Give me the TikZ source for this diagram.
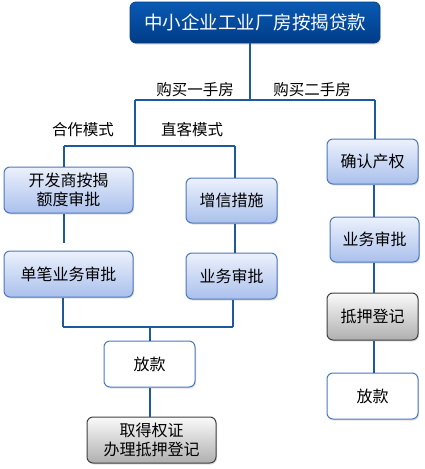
\documentclass[tikz,border=0pt]{standalone}
\usepackage{fontspec}
\setmainfont{Noto Sans CJK SC}
\usetikzlibrary{shadows}
\definecolor{linec}{RGB}{30,90,155}
\definecolor{bborder}{RGB}{75,120,190}
\definecolor{btop}{RGB}{236,241,252}
\definecolor{bbot}{RGB}{170,192,236}
\definecolor{ttop}{RGB}{10,90,180}
\definecolor{tbot}{RGB}{0,60,135}
\definecolor{gtop}{RGB}{250,250,250}
\definecolor{gbot}{RGB}{175,175,175}
\tikzset{
  conn/.style={draw=linec, line width=1.2pt},
  basebox/.style={rounded corners=6pt, inner sep=0pt, align=center, font=\fontsize{16}{18.5}\selectfont,
    drop shadow={shadow xshift=1pt, shadow yshift=-1.5pt, opacity=0.25}},
  bluebox/.style={basebox, draw=bborder, line width=1pt, top color=btop, bottom color=bbot},
  whitebox/.style={basebox, draw=bborder, line width=1pt, fill=white},
  graybox/.style={basebox, draw=black!75, line width=1pt, top color=gtop, bottom color=gbot},
  titlebox/.style={basebox, draw=ttop!70!black, line width=0.8pt, top color=ttop, bottom color=tbot, text=white, font=\fontsize{18.5}{22}\selectfont},
  lbl/.style={inner sep=0pt, font=\fontsize{15.5}{18}\selectfont}
}
\begin{document}
\begin{tikzpicture}[x=1pt,y=-1pt]
\useasboundingbox (0,0) rectangle (424,469);
% boxes
\node[titlebox, minimum width=250pt, minimum height=41pt] (title) at (255,22.5) {中小企业工业厂房按揭贷款};
\node[bluebox, minimum width=129pt, minimum height=46pt] (kf) at (68.5,190) {开发商按揭\\额度审批};
\node[bluebox, minimum width=129pt, minimum height=46pt] (db) at (68.5,274) {单笔业务审批};
\node[bluebox, minimum width=91pt, minimum height=45pt] (zx) at (231.5,200.5) {增信措施};
\node[bluebox, minimum width=91pt, minimum height=46pt] (yw1) at (231.5,276) {业务审批};
\node[whitebox, minimum width=91pt, minimum height=46pt] (fk1) at (149.5,364) {放款};
\node[graybox, minimum width=129pt, minimum height=46pt] (qd) at (151.5,440) {取得权证\\办理抵押登记};
\node[bluebox, minimum width=91pt, minimum height=45pt] (qr) at (372.5,161.5) {确认产权};
\node[bluebox, minimum width=89pt, minimum height=45pt] (yw2) at (374.5,239.5) {业务审批};
\node[graybox, minimum width=91pt, minimum height=47pt] (dy) at (372.5,316.5) {抵押登记};
\node[whitebox, minimum width=91pt, minimum height=46pt] (fk2) at (372.5,396) {放款};
% junction coordinates
\coordinate (j1) at (250,100);
\coordinate (j1L) at (135,100);
\coordinate (j1R) at (375,100);
\coordinate (j2) at (135,146);
\coordinate (j2L) at (64,146);
\coordinate (j2R) at (235,146);
\coordinate (gapL) at (64,243);
\coordinate (j3L) at (63,327);
\coordinate (j3R) at (233,327);
\coordinate (j3) at (150,327);
\coordinate (colR) at (374,0);
% labels
\node[lbl] (l1) at (195,90) {购买一手房};
\node[lbl] (l2) at (312,90) {购买二手房};
\node[lbl] (l3) at (83,130) {合作模式};
\node[lbl] (l4) at (192,130) {直客模式};
% connectors
\draw[conn] (title.south -| j1) -- (j1);
\draw[conn] (j1L) -- (j1R);
\draw[conn] (j1L) -- (j2);
\draw[conn] (j2L) -- (j2R);
\draw[conn] (j2L) -- (j2L |- kf.north);
\draw[conn] (kf.south -| gapL) -- (gapL);
\draw[conn] (j2R) -- (j2R |- zx.north);
\draw[conn] (zx.south -| j2R) -- (yw1.north -| j2R);
\draw[conn] (db.south -| j3L) -- (j3L);
\draw[conn] (yw1.south -| j3R) -- (j3R);
\draw[conn] (j3L) -- (j3R);
\draw[conn] (j3) -- (j3 |- fk1.north);
\draw[conn] (fk1.south -| j3) -- (qd.north -| j3);
\draw[conn] (j1R) -- (j1R |- qr.north);
\draw[conn] (qr.south -| colR) -- (yw2.north -| colR);
\draw[conn] (yw2.south -| colR) -- (dy.north -| colR);
\draw[conn] (dy.south -| colR) -- (fk2.north -| colR);
\end{tikzpicture}
\end{document}
